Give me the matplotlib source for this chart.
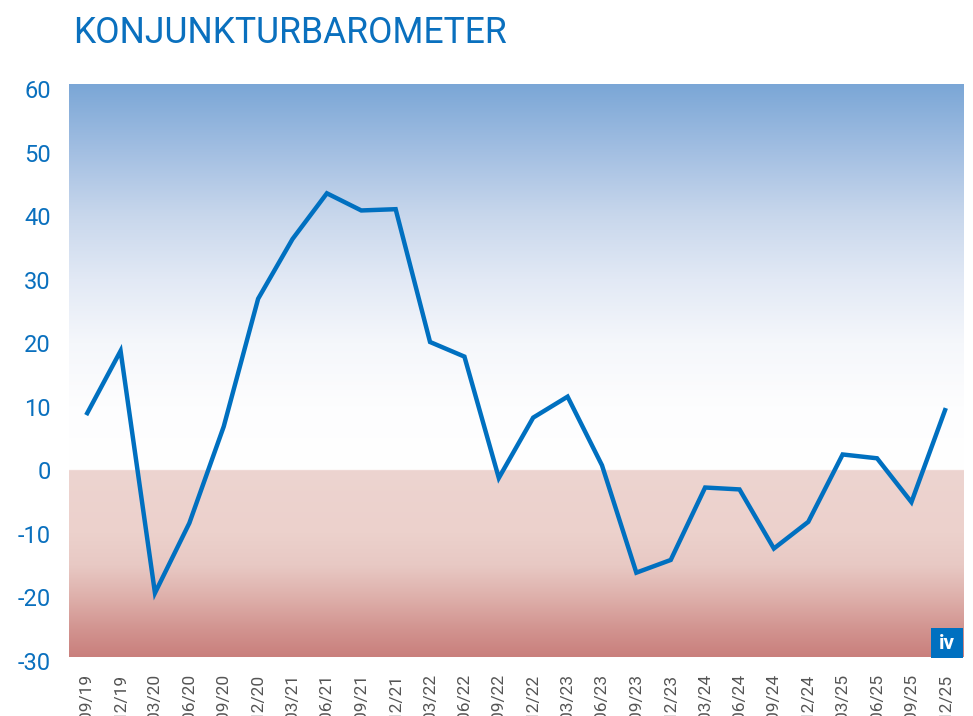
import numpy as np
import matplotlib
matplotlib.use("Agg")
import matplotlib.pyplot as plt
from matplotlib.patches import Rectangle

quarters = ["09/19", "12/19", "03/20", "06/20", "09/20", "12/20", "03/21", "06/21",
            "09/21", "12/21", "03/22", "06/22", "09/22", "12/22", "03/23", "06/23",
            "09/23", "12/23", "03/24", "06/24", "09/24", "12/24", "03/25", "06/25",
            "09/25", "12/25"]
barometer = [8.7, 18.8, -19.3, -8.3, 6.9, 27.0, 36.4, 43.6, 40.9, 41.1, 20.2, 17.9,
             -1.2, 8.3, 11.6, 0.8, -16.1, -14.1, -2.7, -3.0, -12.3, -8.1, 2.5, 1.9,
             -5.0, 9.8]
y_ticks = [-30, -20, -10, 0, 10, 20, 30, 40, 50, 60]
y_ticklabels = ["-30", "-20", "-10", "0", "10", "20", "30", "40", "50", "60"]

plt.rcParams['font.family'] = ['Roboto', 'DejaVu Sans']

fig = plt.figure(figsize=(9.73, 7.16), dpi=100)
ax = fig.add_axes([69/973, 55/716, 894/973, 577/716])

ymin, ymax = -29.4, 60.8
x = np.arange(len(quarters))
xmin, xmax = -0.5, len(quarters) - 0.5

# background gradient
blue_stops_v = [0, 10, 20, 30, 40, 50, 60.8]
blue_stops_c = [(255, 255, 255), (253, 253, 254), (245, 247, 251), (226, 233, 245),
                (200, 215, 236), (163, 191, 226), (122, 166, 214)]
pink_stops_v = [-29.4, -25, -20, -15, -10, 0]
pink_stops_c = [(201, 127, 124), (210, 148, 144), (222, 176, 171), (232, 201, 196),
                (236, 209, 204), (237, 212, 208)]
vals = np.linspace(ymin, ymax, 1200)
img = np.zeros((len(vals), 1, 3))
for i, v in enumerate(vals):
    if v >= 0:
        c = [np.interp(v, blue_stops_v, [s[k] for s in blue_stops_c]) for k in range(3)]
    else:
        c = [np.interp(v, pink_stops_v, [s[k] for s in pink_stops_c]) for k in range(3)]
    img[i, 0, :] = np.array(c) / 255.0
ax.imshow(img, extent=[xmin, xmax, ymin, ymax], origin='lower', aspect='auto',
          interpolation='bilinear', zorder=0)

ax.plot(x, barometer, color='#0070C0', linewidth=3.2, solid_joinstyle='miter',
        solid_capstyle='butt', zorder=3)

ax.set_xlim(xmin, xmax)
ax.set_ylim(ymin, ymax)
for s in ax.spines.values():
    s.set_visible(False)

ax.set_yticks(y_ticks)
ax.set_yticklabels(y_ticklabels, fontsize=17, color='#0A70BE')
ax.set_xticks(x)
ax.set_xticklabels(quarters, rotation=90, fontsize=12.5, color='#555555', va='top')
ax.tick_params(axis='y', length=0, pad=13)
ax.tick_params(axis='x', length=0, pad=9)

fig.text(73/973, 1 - 33/716, "KONJUNKTURBAROMETER", fontsize=25.6, color='#0A70BE',
         va='center', ha='left')

# iv logo
ax.add_patch(Rectangle((0.964, 0.005), 0.0358, 0.052, transform=ax.transAxes,
                       facecolor='#0070C0', edgecolor='none', zorder=5))
ax.text(0.964 + 0.0179, 0.031, "iv", transform=ax.transAxes, ha='center', va='center',
        fontsize=15, fontweight='bold', color='white', zorder=6)

fig.savefig("out.png", dpi=100)
